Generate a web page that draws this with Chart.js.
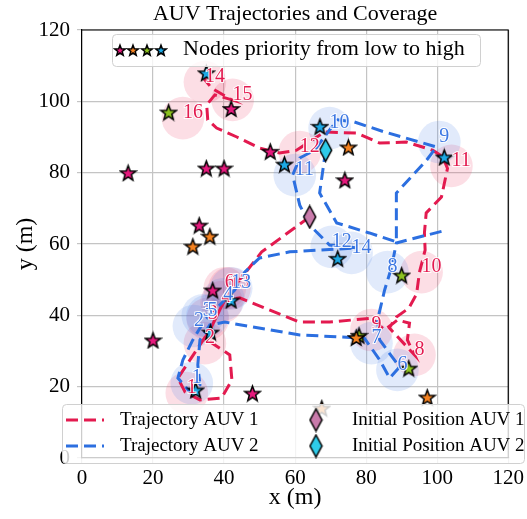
<!DOCTYPE html>
<html>
<head>
<meta charset="utf-8">
<script src="https://cdn.jsdelivr.net/npm/chart.js@4.4.0/dist/chart.umd.min.js"></script>
<style>
  html, body { margin: 0; padding: 0; background: #fff; }
</style>
</head>
<body>
<canvas id="auv-chart" width="527" height="519"></canvas>
<script>
'use strict';

// **** Data ****

let axisTicks = [0, 20, 40, 60, 80, 100, 120];
let coverRadius = 6;

let magentaNodes = [[42, 98], [13, 80], [35, 81.3], [40, 81.3], [53, 86], [74, 78], [33, 65.3], [36.8, 47.1], [20, 33.1], [48, 18.2]];
let orangeNodes = [[75, 87.2], [36, 62.2], [31.2, 59.4], [97.2, 17.1], [67.5, 14], [77.2, 33.8]];
let greenNodes = [[24.4, 97], [90, 51.3], [78, 34.4], [92, 25.2]];
let cyanNodes = [[35, 108], [67, 93], [57, 82.4], [102, 84.4], [72, 56], [42, 44.3], [36.2, 35.3], [32, 19.1]];

let auv1Start = [[64.1, 67.6]];
let auv2Start = [[68.6, 86.3]];

let auv1Path = [[64.1, 67.6], [50.6, 57.8], [44.4, 49.9], [41.0, 46.5], [38.8, 41.5], [36.0, 35.9], [33.2, 31.7], [30.4, 27.5],
  [27.0, 22.4], [29.0, 18.5], [33.2, 16.3], [39.3, 16.8], [42.2, 21.9], [41.6, 28.9], [37.4, 31.7], [34.6, 33.6], [37.4, 38.7],
  [40.2, 44.3], [44.4, 44.9], [61.3, 38.1], [69.7, 38.1], [81.5, 39.2], [85.2, 35.9], [88.8, 38.7], [92.2, 37.8], [91.6, 33.1],
  [93.6, 28.9], [86.5, 36.5], [88.5, 39.5], [92.0, 42.0], [94.2, 46.0], [95.0, 52.1], [96.6, 58.3], [96.4, 63.1], [96.9, 68.7],
  [101.2, 73.2], [102.9, 81.2], [101.5, 84.5], [98.7, 86.3], [91.3, 88.6], [83.8, 88.3], [77.3, 91.1], [68.3, 91.4], [60.4, 86.3],
  [55.6, 85.5], [50.0, 86.9], [43.6, 90.0], [37.9, 92.5], [35.4, 94.8], [35.1, 99.0], [37.4, 101.8], [42.2, 100.4], [36.5, 103.7],
  [34.6, 106.0], [35.1, 108.2]];

let auv2Path = [[68.6, 86.3], [66.9, 74.3], [71.7, 65.9], [80.9, 63.1], [88.5, 60.6], [88.5, 74.3], [97.0, 83.5], [99.8, 87.2],
  [95.0, 88.6], [85.2, 91.4], [76.7, 94.2], [72.0, 94.8], [69.7, 92.0], [65.5, 86.3], [61.3, 84.1], [59.3, 79.3], [61.3, 70.9],
  [64.1, 65.3], [69.7, 59.7], [77.3, 58.9], [66.9, 58.3], [58.5, 57.8], [50.0, 56.1], [45.8, 52.1], [43.0, 47.1], [38.8, 42.9],
  [34.6, 38.7], [31.2, 33.1], [28.4, 27.5], [27.0, 22.4], [30.4, 18.5], [33.2, 20.5], [32.6, 26.1], [33.2, 33.1], [36.0, 37.3],
  [40.2, 38.1], [61.3, 34.5], [79.5, 33.6], [83.8, 27.5], [86.6, 22.4], [89.4, 25.5], [83.8, 33.1], [83.2, 38.7], [85.2, 47.1],
  [87.1, 53.3], [88.5, 60.3], [102.6, 63.9]];

let auv1Circles = [[29.5, 18.2], [34.6, 32.2], [35.4, 39.0], [39.3, 43.7], [40.2, 47.6], [41.5, 47.6], [93.6, 28.9], [81.5, 35.9],
  [95.6, 52.1], [104, 81.9], [61.3, 85.8], [34.6, 105.4], [42.4, 100.4], [28.4, 95.3]];
let auv1Labels = ['1', '2', '3', '4', '6', '13', '8', '9', '10', '11', '12', '14', '15', '16'];

let auv2Circles = [[30.9, 21], [31.5, 37.0], [34.0, 40.0], [39.8, 44.5], [35.3, 39.8], [88.8, 24.7], [81.5, 32.2], [86, 52.1],
  [100.6, 88.6], [69.7, 92.5], [59.9, 79.3], [70.3, 59.2], [42.0, 47.6], [75.9, 57.5]];
let auv2Labels = ['1', '2', '3', '4', '5', '6', '7', '8', '9', '10', '11', '12', '13', '14'];

// **** Styles ****

let serif = '"Liberation Serif", "DejaVu Serif", serif';
let red = '#e31a4f';
let blue = '#2c6fe0';

function toPoints(list) {
  return list.map(p => ({ x: p[0], y: p[1] }));
}

function makeStar(color, size) {
  let c = document.createElement('canvas');
  c.width = size;
  c.height = size;
  let g = c.getContext('2d');
  let cx = size / 2, cy = size / 2 + size * 0.05;
  let R = size / 2 - 1.5, r = R * 0.42;
  g.beginPath();
  for (let i = 0; i < 10; i++) {
    let a = -Math.PI / 2 + i * Math.PI / 5;
    let rad = i % 2 ? r : R;
    g.lineTo(cx + rad * Math.cos(a), cy + rad * Math.sin(a));
  }
  g.closePath();
  g.fillStyle = color;
  g.fill();
  g.lineWidth = 1.5;
  g.strokeStyle = '#000';
  g.stroke();
  return c;
}

function makeDiamond(color, w, h) {
  let c = document.createElement('canvas');
  c.width = w;
  c.height = h;
  let g = c.getContext('2d');
  g.beginPath();
  g.moveTo(w / 2, 1.5);
  g.lineTo(w - 1.5, h / 2);
  g.lineTo(w / 2, h - 1.5);
  g.lineTo(1.5, h / 2);
  g.closePath();
  g.fillStyle = color;
  g.fill();
  g.lineWidth = 1.5;
  g.strokeStyle = '#000';
  g.stroke();
  return c;
}

let starColors = ['#e6197d', '#f58220', '#8dc21f', '#1ca9e6'];
let starImgs = starColors.map(c => makeStar(c, 19));
let smallStars = starColors.map(c => makeStar(c, 14));
let diamond1 = makeDiamond('#c97bab', 15, 25);
let diamond2 = makeDiamond('#2ecbe9', 15, 25);

function circleRadius(ctx) {
  let s = ctx.chart.scales.x;
  return s.getPixelForValue(coverRadius) - s.getPixelForValue(0);
}

// **** Plugin for labels, spines, title and legends ****

let decorPlugin = {
  id: 'decor',
  beforeDraw(chart) {
    let ctx = chart.ctx;
    ctx.save();
    ctx.fillStyle = '#fff';
    ctx.fillRect(0, 0, chart.width, chart.height);
    ctx.restore();
  },
  afterDatasetsDraw(chart) {
    let ctx = chart.ctx;
    let sx = chart.scales.x, sy = chart.scales.y;
    ctx.save();
    ctx.font = '20px ' + serif;
    ctx.textAlign = 'left';
    ctx.textBaseline = 'middle';
    ctx.lineWidth = 2;
    ctx.strokeStyle = 'rgba(255,255,255,0.9)';
    let drawSet = (list, labels, color) => {
      ctx.fillStyle = color;
      for (let i = 0; i < list.length; i++) {
        let px = sx.getPixelForValue(list[i][0]);
        let py = sy.getPixelForValue(list[i][1]) - 5;
        ctx.strokeText(labels[i], px, py);
        ctx.fillText(labels[i], px, py);
      }
    };
    drawSet(auv1Circles, auv1Labels, red);
    drawSet(auv2Circles, auv2Labels, '#3d78e3');
    ctx.restore();
  },
  afterDraw(chart) {
    let ctx = chart.ctx;
    let a = chart.chartArea;
    ctx.save();

    // top and right spines
    ctx.strokeStyle = '#000';
    ctx.lineWidth = 1.2;
    ctx.beginPath();
    ctx.moveTo(a.left, a.top);
    ctx.lineTo(a.right, a.top);
    ctx.lineTo(a.right, a.bottom);
    ctx.stroke();

    // title
    ctx.fillStyle = '#000';
    ctx.font = '22px ' + serif;
    ctx.textAlign = 'center';
    ctx.textBaseline = 'middle';
    ctx.fillText('AUV Trajectories and Coverage', (a.left + a.right) / 2, 14);

    let box = (x, y, w, h) => {
      ctx.beginPath();
      ctx.roundRect(x, y, w, h, 4);
      ctx.fillStyle = 'rgba(255,255,255,0.8)';
      ctx.fill();
      ctx.strokeStyle = '#d0d0d0';
      ctx.lineWidth = 1;
      ctx.stroke();
    };

    // top legend
    box(112.5, 34.5, 368, 32);
    let sxs = [120, 133, 147, 161];
    for (let i = 0; i < 4; i++) {
      ctx.drawImage(smallStars[i], sxs[i] - 7, 50 - 7);
    }
    ctx.fillStyle = '#000';
    ctx.font = '22px ' + serif;
    ctx.textAlign = 'left';
    ctx.fillText('Nodes priority from low to high', 183, 49);

    // bottom legend
    box(62.5, 404.5, 462, 59);
    ctx.lineWidth = 3;
    ctx.setLineDash([12, 6]);
    ctx.strokeStyle = red;
    ctx.beginPath();
    ctx.moveTo(66, 420);
    ctx.lineTo(104, 420);
    ctx.stroke();
    ctx.strokeStyle = blue;
    ctx.beginPath();
    ctx.moveTo(66, 446);
    ctx.lineTo(104, 446);
    ctx.stroke();
    ctx.setLineDash([]);
    ctx.drawImage(diamond1, 316 - 7.5, 420 - 12.5);
    ctx.drawImage(diamond2, 316 - 7.5, 446 - 12.5);
    ctx.fillStyle = '#000';
    ctx.font = '19px ' + serif;
    ctx.fillText('Trajectory AUV 1', 120, 420);
    ctx.fillText('Trajectory AUV 2', 120, 446);
    ctx.fillText('Initial Position AUV 1', 352, 420);
    ctx.fillText('Initial Position AUV 2', 352, 446);
    ctx.restore();
  }
};

// **** Chart ****

function starSet(list, img) {
  return {
    type: 'scatter',
    data: toPoints(list),
    pointStyle: img,
    pointRadius: 8,
    order: 2
  };
}

let chartConfig = {
  type: 'scatter',
  data: {
    datasets: [
      {
        data: toPoints(auv1Circles),
        pointRadius: circleRadius,
        pointBackgroundColor: 'rgba(236,60,100,0.17)',
        pointBorderWidth: 0,
        pointBorderColor: 'rgba(0,0,0,0)',
        order: 10
      },
      {
        data: toPoints(auv2Circles),
        pointRadius: circleRadius,
        pointBackgroundColor: 'rgba(80,130,230,0.17)',
        pointBorderWidth: 0,
        pointBorderColor: 'rgba(0,0,0,0)',
        order: 9
      },
      {
        data: toPoints(auv1Path),
        showLine: true,
        borderColor: red,
        borderWidth: 3,
        borderDash: [12, 6],
        pointRadius: 0,
        order: 6
      },
      {
        data: toPoints(auv2Path),
        showLine: true,
        borderColor: blue,
        borderWidth: 3,
        borderDash: [12, 6],
        pointRadius: 0,
        order: 5
      },
      starSet(magentaNodes, starImgs[0]),
      starSet(orangeNodes, starImgs[1]),
      starSet(greenNodes, starImgs[2]),
      starSet(cyanNodes, starImgs[3]),
      {
        data: toPoints(auv1Start),
        pointStyle: diamond1,
        pointRadius: 10,
        order: 1
      },
      {
        data: toPoints(auv2Start),
        pointStyle: diamond2,
        pointRadius: 10,
        order: 1
      }
    ]
  },
  options: {
    responsive: false,
    animation: false,
    events: [],
    layout: { padding: { left: 0, right: 18, top: 30, bottom: 0 } },
    plugins: {
      legend: { display: false },
      title: { display: false },
      tooltip: { enabled: false }
    },
    scales: {
      x: {
        type: 'linear',
        min: 0,
        max: 120,
        afterFit: s => { s.height = 61; },
        afterBuildTicks: s => { s.ticks = axisTicks.map(v => ({ value: v })); },
        grid: { color: '#c4c4c4', lineWidth: 1.2, tickLength: 5 },
        border: { color: '#000', width: 1.2 },
        ticks: { color: '#000', font: { family: serif, size: 21 }, padding: 3, maxRotation: 0 },
        title: { display: true, text: 'x (m)', color: '#000', font: { family: serif, size: 24 }, padding: { top: 0, bottom: 7 } }
      },
      y: {
        type: 'linear',
        min: 0,
        max: 120,
        afterFit: s => { s.width = 82; },
        afterBuildTicks: s => { s.ticks = axisTicks.map(v => ({ value: v })); },
        grid: { color: '#c4c4c4', lineWidth: 1.2, tickLength: 5 },
        border: { color: '#000', width: 1.2 },
        ticks: { color: '#000', font: { family: serif, size: 21 }, padding: 7 },
        title: { display: true, text: 'y (m)', color: '#000', font: { family: serif, size: 24 }, padding: { top: 11, bottom: 0 } }
      }
    }
  },
  plugins: [decorPlugin]
};

new Chart(document.getElementById('auv-chart'), chartConfig);
</script>
</body>
</html>
